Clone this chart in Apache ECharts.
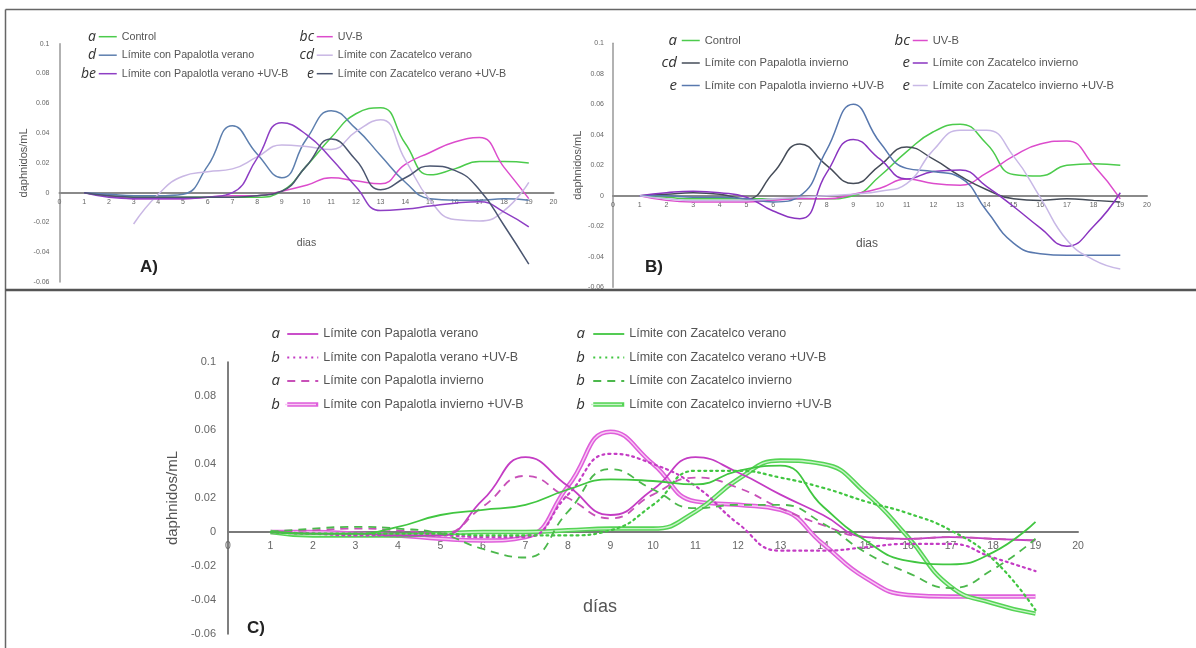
<!DOCTYPE html>
<html>
<head>
<meta charset="utf-8">
<script src="https://cdn.jsdelivr.net/npm/echarts@6/dist/echarts.min.js"></script>
<style>
  html, body { margin: 0; padding: 0; background: #ffffff; }
  #chart { width: 1196px; height: 648px; }
</style>
</head>
<body>
<div id="chart"></div>
<script>
// Sampling days (x values shared by every series)
const days = [1, 2, 3, 4, 5, 6, 7, 8, 9, 10, 11, 12, 13, 14, 15, 16, 17, 18, 19];

// ---- Panel A (verano) : daphnidos/mL ----
const ctrlA      = [0, -0.002, -0.003, -0.003, -0.003, -0.003, -0.003, -0.003, 0.001, 0.018, 0.037, 0.053, 0.057, 0.033, 0.012, 0.016, 0.021, 0.021, 0.020];
const uvbA       = [0, -0.002, -0.004, -0.004, -0.004, -0.003, -0.002, -0.002, 0.001, 0.005, 0.010, 0.008, 0.006, 0.019, 0.027, 0.034, 0.037, 0.017, -0.004];
const papVerA    = [0, -0.001, -0.002, -0.002, -0.001, 0.018, 0.045, 0.026, 0.010, 0.036, 0.055, 0.043, 0.025, 0.007, -0.004, -0.005, -0.005, -0.004, -0.005];
const zacVerA    = [null, null, -0.021, -0.001, 0.011, 0.014, 0.016, 0.024, 0.032, 0.031, 0.029, 0.041, 0.049, 0.022, -0.005, -0.018, -0.019, -0.012, 0.007];
const papVerUvA  = [0, -0.003, -0.004, -0.004, -0.004, -0.003, 0.000, 0.023, 0.047, 0.039, 0.023, 0.004, -0.012, -0.011, -0.009, -0.007, -0.006, -0.013, -0.023];
const zacVerUvA  = [0, -0.002, -0.003, -0.003, -0.003, -0.003, -0.003, -0.002, 0.001, 0.018, 0.036, 0.022, 0.002, 0.010, 0.018, 0.015, 0.002, -0.022, -0.048];

// ---- Panel B (invierno) ----
const ctrlB      = [0, -0.001, -0.002, -0.002, -0.002, -0.002, -0.002, -0.002, 0.000, 0.013, 0.029, 0.042, 0.047, 0.034, 0.014, 0.013, 0.020, 0.021, 0.020];
const uvbB       = [0, -0.003, -0.004, -0.004, -0.004, -0.003, -0.002, -0.002, 0.001, 0.005, 0.011, 0.008, 0.007, 0.015, 0.026, 0.034, 0.036, 0.020, -0.002];
const papInvB    = [0, 0.001, 0.002, 0.001, -0.002, 0.015, 0.034, 0.020, 0.008, 0.020, 0.032, 0.024, 0.013, 0.004, -0.002, -0.003, -0.002, -0.003, -0.004];
const zacInvB    = [0, 0.002, 0.003, 0.002, -0.001, -0.010, -0.015, 0.015, 0.037, 0.024, 0.011, 0.016, 0.017, 0.006, -0.007, -0.021, -0.033, -0.020, 0.002];
const papInvUvB  = [0, 0.000, -0.001, -0.001, -0.002, -0.004, 0.000, 0.030, 0.060, 0.035, 0.018, 0.016, 0.012, -0.010, -0.031, -0.038, -0.039, -0.039, -0.039];
const zacInvUvB  = [0, -0.002, -0.003, -0.003, -0.003, -0.002, -0.001, 0.000, 0.001, 0.003, 0.008, 0.030, 0.043, 0.043, 0.026, -0.001, -0.029, -0.042, -0.048];

// ---- Panel C (comparison) ----
const papVerC    = [0, -0.001, -0.001, -0.002, -0.002, 0.019, 0.044, 0.027, 0.010, 0.025, 0.044, 0.035, 0.022, 0.010, -0.003, -0.004, -0.003, -0.004, -0.005];
const papVerUvC  = [0, -0.001, -0.002, -0.002, -0.002, -0.003, -0.003, 0.022, 0.046, 0.040, 0.027, 0.005, -0.011, -0.011, -0.009, -0.007, -0.007, -0.015, -0.023];
const papInvC    = [0, 0.001, 0.002, 0.001, -0.001, 0.015, 0.033, 0.020, 0.008, 0.022, 0.032, 0.026, 0.014, 0.004, -0.003, -0.004, -0.003, -0.004, -0.005];
const papInvUvC  = [0, 0.000, -0.001, -0.002, -0.004, -0.005, -0.003, 0.027, 0.059, 0.040, 0.018, 0.016, 0.013, -0.007, -0.027, -0.037, -0.038, -0.038, -0.038];
const zacVerC    = [0, -0.001, -0.001, 0.003, 0.010, 0.013, 0.016, 0.025, 0.031, 0.030, 0.028, 0.036, 0.039, 0.015, -0.005, -0.017, -0.019, -0.012, 0.006];
const zacVerUvC  = [0, -0.001, -0.001, -0.001, -0.001, -0.002, -0.002, -0.002, 0.001, 0.016, 0.036, 0.036, 0.032, 0.026, 0.018, 0.011, 0.001, -0.016, -0.046];
const zacInvC    = [0, 0.002, 0.003, 0.002, -0.001, -0.010, -0.015, 0.012, 0.037, 0.025, 0.014, 0.016, 0.016, 0.005, -0.012, -0.024, -0.033, -0.022, -0.004];
const zacInvUvC  = [0, -0.002, -0.002, -0.002, -0.001, 0.000, 0.000, 0.001, 0.002, 0.002, 0.012, 0.031, 0.042, 0.040, 0.023, -0.003, -0.032, -0.042, -0.048];

// Series names
const N = {
  ctrl: 'Control',
  uvb: 'UV-B',
  papVer: 'Límite con Papalotla verano',
  zacVer: 'Límite con Zacatelco verano',
  papVerUv: 'Límite con Papalotla verano +UV-B',
  zacVerUv: 'Límite con Zacatelco verano +UV-B',
  papInv: 'Límite con Papalotla invierno',
  zacInv: 'Límite con Zacatelco invierno',
  papInvUv: 'Límite con Papalotla invierno +UV-B',
  zacInvUv: 'Límite con Zacatelco invierno +UV-B'
};

// Significance letters shown next to each legend row
const lettersA = [['a', 'd', 'be'], ['bc', 'cd', 'e']];
const lettersB = [['a', 'cd', 'e'], ['bc', 'e', 'e']];
const lettersC = [['a', 'b', 'a', 'b'], ['a', 'b', 'b', 'b']];

const FONT = '"Liberation Sans", Arial, sans-serif';
const LETTER_FONT = '"Open Sans", "Noto Sans", sans-serif';
const Y_MIN = -0.06, Y_MAX = 0.1;

// Plot rectangles of the three panels
const G = [
  { left: 59.5, top: 43.7, width: 494, height: 238.4 },
  { left: 613, top: 43.3, width: 534, height: 244 },
  { left: 228, top: 362, width: 850, height: 272 }
];

// Line styles
const COL = {
  ctrl: '#4ccb4c', uvb: '#dc4ccc',
  papVerA: '#5d7fae', zacVerA: '#c9b7e4', papVerUvA: '#8e3fc4', zacVerUvA: '#4b5670',
  papInvB: '#454c58', zacInvB: '#8a35c0', papInvUvB: '#5878ae', zacInvUvB: '#c8b8e6',
  mag: '#c43cc4', magDash: '#c850b8', magThick: '#df5fdb', magInner: '#f8ccf4',
  grn: '#41c641', grnDash: '#4cb84c', grnThick: '#55d455', grnInner: '#c9f3c9'
};
const DOT = [2, 4], DASH = [8, 6];

// Panel C legend layout (used for the double-line samples as well)
const LEG_C = { iw: 31, ih: 14, gap: 9.5, fs: 12.5, top: 327, left: [285, 591] };

function pts(vals) {
  return days.map((d, i) => [d, vals[i]]).filter(p => p[1] !== null);
}

function line(name, vals, color, idx, o) {
  o = o || {};
  return {
    type: 'line',
    name: name,
    data: pts(vals),
    xAxisIndex: idx,
    yAxisIndex: idx,
    smooth: 0.5,
    symbol: 'none',
    z: o.z || 3,
    lineStyle: { color: color, width: o.width || 1.5, type: o.type || 'solid', cap: o.cap || 'butt' },
    itemStyle: { color: color },
    emphasis: { disabled: true }
  };
}

function xAxis(idx, o) {
  // axis sits on the zero level of the value scale
  const zeroOffset = -G[idx].height * (0 - Y_MIN) / (Y_MAX - Y_MIN);
  return {
    gridIndex: idx, type: 'value', min: 0, max: 20, interval: 1,
    position: 'bottom', offset: zeroOffset,
    axisLine: { onZero: false, lineStyle: { color: o.lineColor, width: o.lineWidth } },
    axisTick: { show: false },
    splitLine: { show: false },
    axisLabel: { fontSize: o.fs, color: '#666', margin: o.margin, fontFamily: FONT },
    name: o.name, nameLocation: 'middle', nameGap: o.gap,
    nameTextStyle: { fontSize: o.nameFs, color: '#555', fontFamily: FONT, padding: o.pad || 0 }
  };
}

function yAxis(idx, o) {
  return {
    gridIndex: idx, type: 'value', min: Y_MIN, max: Y_MAX, interval: 0.02,
    axisLine: { show: true, onZero: false, lineStyle: { color: o.lineColor, width: o.lineWidth } },
    axisTick: { show: false },
    splitLine: { show: false },
    axisLabel: {
      fontSize: o.fs, color: '#666', margin: o.margin, fontFamily: FONT,
      formatter: v => String(Math.round(v * 100) / 100)
    },
    name: 'daphnidos/mL', nameLocation: 'middle', nameGap: o.gap,
    nameTextStyle: { fontSize: o.nameFs, color: '#555', fontFamily: FONT }
  };
}

// legend entry with its own line sample
function item(name, color, width, type) {
  return {
    name: name,
    itemStyle: { opacity: 0 },
    lineStyle: { color: color, width: width || 1.5, type: type || 'solid', opacity: 1 }
  };
}

function legend(left, top, items, o) {
  return {
    orient: 'vertical', left: left, top: top, padding: 0,
    itemWidth: o.iw, itemHeight: o.ih, itemGap: o.gap,
    data: items, selectedMode: false,
    textStyle: { fontSize: o.fs, color: '#555', fontFamily: FONT, lineHeight: o.ih }
  };
}

function letters(cols, xs, y0, step, fs) {
  const out = [];
  cols.forEach((col, c) => {
    col.forEach((t, r) => {
      out.push({
        type: 'text', x: xs[c], y: y0 + r * step, silent: true,
        style: { text: t, align: 'right', verticalAlign: 'middle',
                 font: 'italic ' + fs + 'px ' + LETTER_FONT, fill: '#333' }
      });
    });
  });
  return out;
}

function panelTag(text, x, y) {
  return { type: 'text', x: x, y: y, silent: true,
           style: { text: text, verticalAlign: 'middle', font: 'bold 17px ' + FONT, fill: '#222' } };
}

// pale centre stroke that turns the thick legend samples into double lines
function innerSample(col, row, color) {
  const y = LEG_C.top + row * (LEG_C.ih + LEG_C.gap) + LEG_C.ih / 2;
  const x = LEG_C.left[col];
  return { type: 'line', silent: true, z: 100,
           shape: { x1: x, y1: y, x2: x + LEG_C.iw, y2: y },
           style: { stroke: color, lineWidth: 1.4 } };
}

const option = {
  animation: false,
  backgroundColor: '#ffffff',
  grid: G.map(g => Object.assign({ outerBoundsMode: 'none', containLabel: false }, g)),
  xAxis: [
    xAxis(0, { lineColor: '#8a8a8a', lineWidth: 2, fs: 7, margin: 6, name: 'dias', gap: 45, nameFs: 10.5 }),
    xAxis(1, { lineColor: '#8a8a8a', lineWidth: 2, fs: 7, margin: 6, name: 'dias', gap: 42, nameFs: 12, pad: [0, 26, 0, 0] }),
    xAxis(2, { lineColor: '#7a7a7a', lineWidth: 2, fs: 10.5, margin: 9, name: 'días', gap: 66, nameFs: 18, pad: [0, 106, 0, 0] })
  ],
  yAxis: [
    yAxis(0, { lineColor: '#999', lineWidth: 1.5, fs: 7, margin: 10, gap: 29, nameFs: 11 }),
    yAxis(1, { lineColor: '#999', lineWidth: 1.5, fs: 7, margin: 9, gap: 29.5, nameFs: 11 }),
    yAxis(2, { lineColor: '#555', lineWidth: 1.5, fs: 11, margin: 12, gap: 43.5, nameFs: 15 })
  ],
  legend: [
    legend(98, 30.7, [item(N.ctrl, COL.ctrl), item(N.papVer, COL.papVerA), item(N.papVerUv, COL.papVerUvA)],
           { iw: 18, ih: 12, gap: 6.5, fs: 10.7 }),
    legend(316, 30.7, [item(N.uvb, COL.uvb), item(N.zacVer, COL.zacVerA), item(N.zacVerUv, COL.zacVerUvA)],
           { iw: 16, ih: 12, gap: 6.5, fs: 10.7 }),
    legend(681, 34.5, [item(N.ctrl, COL.ctrl), item(N.papInv, COL.papInvB), item(N.papInvUv, COL.papInvUvB)],
           { iw: 18, ih: 12, gap: 10.5, fs: 11.2 }),
    legend(912, 34.5, [item(N.uvb, COL.uvb), item(N.zacInv, COL.zacInvB), item(N.zacInvUv, COL.zacInvUvB)],
           { iw: 15, ih: 12, gap: 10.5, fs: 11.2 }),
    legend(LEG_C.left[0], LEG_C.top,
           [item(N.papVer, COL.mag, 1.8), item(N.papVerUv, COL.mag, 2.2, DOT),
            item(N.papInv, COL.magDash, 1.8, DASH), item(N.papInvUv, COL.magThick, 4.5)], LEG_C),
    legend(LEG_C.left[1], LEG_C.top,
           [item(N.zacVer, COL.grn, 1.8), item(N.zacVerUv, COL.grn, 2.2, DOT),
            item(N.zacInv, COL.grnDash, 1.8, DASH), item(N.zacInvUv, COL.grnThick, 4.5)], LEG_C)
  ],
  series: [
    // Panel A
    line(N.ctrl, ctrlA, COL.ctrl, 0),
    line(N.uvb, uvbA, COL.uvb, 0),
    line(N.papVer, papVerA, COL.papVerA, 0),
    line(N.zacVer, zacVerA, COL.zacVerA, 0),
    line(N.papVerUv, papVerUvA, COL.papVerUvA, 0),
    line(N.zacVerUv, zacVerUvA, COL.zacVerUvA, 0),
    // Panel B
    line(N.ctrl, ctrlB, COL.ctrl, 1),
    line(N.uvb, uvbB, COL.uvb, 1),
    line(N.papInv, papInvB, COL.papInvB, 1),
    line(N.zacInv, zacInvB, COL.zacInvB, 1),
    line(N.papInvUv, papInvUvB, COL.papInvUvB, 1),
    line(N.zacInvUv, zacInvUvB, COL.zacInvUvB, 1),
    // Panel C
    line(N.papVer, papVerC, COL.mag, 2, { width: 1.8 }),
    line(N.papVerUv, papVerUvC, COL.mag, 2, { width: 2.2, type: DOT, cap: 'round' }),
    line(N.papInv, papInvC, COL.magDash, 2, { width: 1.8, type: DASH }),
    line(N.papInvUv, papInvUvC, COL.magThick, 2, { width: 4.5, z: 2 }),
    line(N.papInvUv, papInvUvC, COL.magInner, 2, { width: 1.4, z: 2 }),
    line(N.zacVer, zacVerC, COL.grn, 2, { width: 1.8 }),
    line(N.zacVerUv, zacVerUvC, COL.grn, 2, { width: 2.2, type: DOT, cap: 'round' }),
    line(N.zacInv, zacInvC, COL.grnDash, 2, { width: 1.8, type: DASH }),
    line(N.zacInvUv, zacInvUvC, COL.grnThick, 2, { width: 4.5, z: 2 }),
    line(N.zacInvUv, zacInvUvC, COL.grnInner, 2, { width: 1.4, z: 2 })
  ],
  graphic: [].concat(
    [
      { type: 'line', silent: true, shape: { x1: 5.5, y1: 9.5, x2: 1196, y2: 9.5 }, style: { stroke: '#666', lineWidth: 1.5 } },
      { type: 'line', silent: true, shape: { x1: 5.5, y1: 9.5, x2: 5.5, y2: 648 }, style: { stroke: '#666', lineWidth: 1.5 } },
      { type: 'line', silent: true, shape: { x1: 5.5, y1: 290, x2: 1196, y2: 290 }, style: { stroke: '#555', lineWidth: 2.5 } },
      panelTag('A)', 140, 267),
      panelTag('B)', 645, 267),
      panelTag('C)', 247, 628),
      innerSample(0, 3, COL.magInner),
      innerSample(1, 3, COL.grnInner)
    ],
    letters(lettersA, [96, 314], 36.7, 18.5, 14),
    letters(lettersB, [677, 910], 40.5, 22.5, 15),
    letters(lettersC, [280, 585], 334, 23.5, 15)
  )
};

const chart = echarts.init(document.getElementById('chart'), null, { renderer: 'canvas' });
chart.setOption(option);
</script>
</body>
</html>
